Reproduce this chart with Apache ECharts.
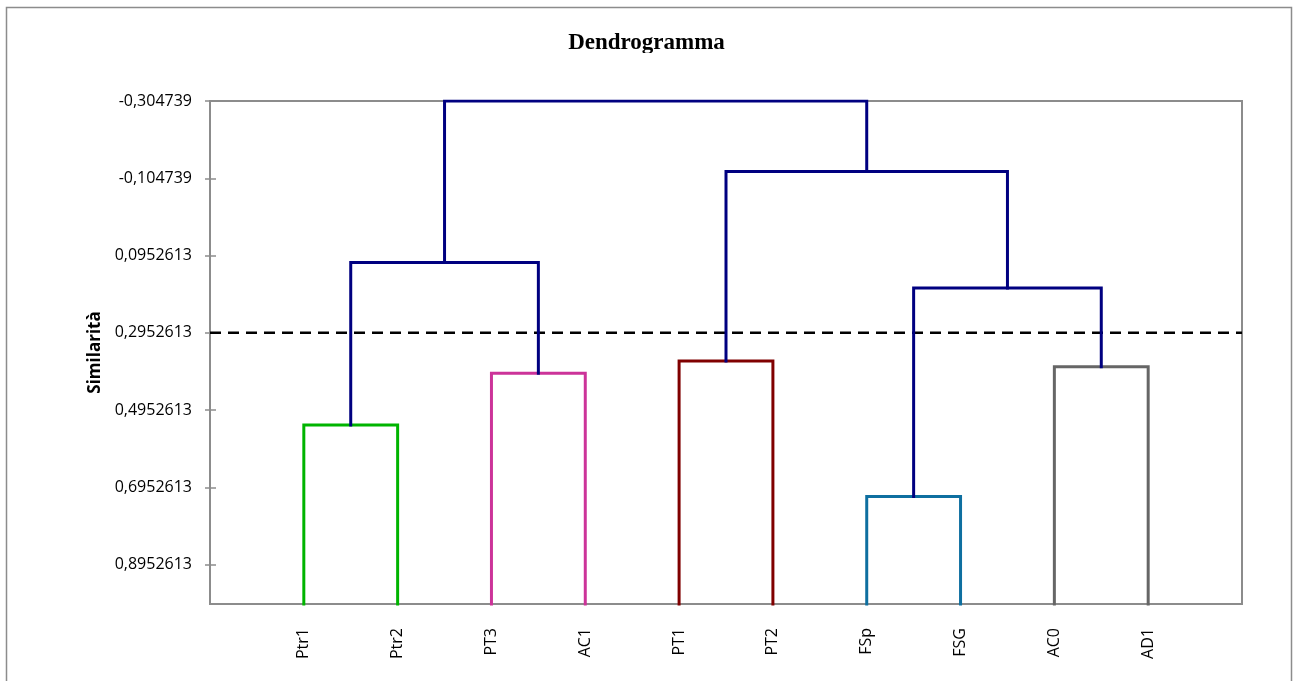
<!DOCTYPE html>
<html>
<head>
<meta charset="utf-8">
<script src="https://cdn.jsdelivr.net/npm/echarts@6/dist/echarts.min.js"></script>
<style>html,body{margin:0;padding:0;background:#fff;}#c{width:1293px;height:681px;}</style>
</head>
<body>
<div id="c"></div>
<script>
// ---- data ----
const leaves = ['Ptr1','Ptr2','PT3','AC1','PT1','PT2','FSp','FSG','AC0','AD1'];
const leafSimilarity = 1;
// merges: node ids 0..9 are leaves, merges produce ids 10..18
const mergeA = [0, 2, 4, 6, 8, 10, 13, 12, 15];
const mergeB = [1, 3, 5, 7, 9, 11, 14, 16, 17];
const mergeHeight = [0.534, 0.400, 0.368, 0.719, 0.383, 0.113, 0.179, -0.122, -0.304739];
const yTicks = [-0.304739, -0.104739, 0.0952613, 0.2952613, 0.4952613, 0.6952613, 0.8952613];
const yTickLabels = ['-0,304739','-0,104739','0,0952613','0,2952613','0,4952613','0,6952613','0,8952613'];
const yAxisMax = 0.997;
const cutLevel = 0.2952613;

// ---- styles ----
const mergeColors = ['#00B400','#CC3399','#800000','#0E6FA0','#666666','#000080','#000080','#000080','#000080'];

const nodeX = leaves.map((_, i) => i + 1);
const nodeY = leaves.map(() => leafSimilarity);
mergeA.forEach((a, k) => {
  const b = mergeB[k];
  nodeX.push((nodeX[a] + nodeX[b]) / 2);
  nodeY.push(mergeHeight[k]);
});

const series = [{
  type: 'line', silent: true, symbol: 'none', z: 1,
  data: [[0, cutLevel], [leaves.length + 1, cutLevel]],
  lineStyle: { color: '#000', width: 2.5, type: [11, 7] }
}];
mergeA.forEach((a, k) => {
  const b = mergeB[k];
  series.push({
    type: 'line', silent: true, symbol: 'none', z: 2, clip: true,
    data: [[nodeX[a], nodeY[a]], [nodeX[a], mergeHeight[k]], [nodeX[b], mergeHeight[k]], [nodeX[b], nodeY[b]]],
    lineStyle: { color: mergeColors[k], width: 3, join: 'miter', cap: 'square' }
  });
});

const chart = echarts.init(document.getElementById('c'), null, { renderer: 'canvas' });
const labelFor = v => {
  let best = 0;
  yTicks.forEach((t, i) => { if (Math.abs(t - v) < Math.abs(yTicks[best] - v)) best = i; });
  return yTickLabels[best];
};
chart.setOption({
  animation: false,
  backgroundColor: '#fff',
  title: {
    text: 'Dendrogramma', left: 'center', top: 27,
    textStyle: { fontFamily: 'Liberation Serif', fontWeight: 'bold', fontSize: 23, color: '#000' }
  },
  graphic: [
    { type: 'rect', z: 100, shape: { x: 6.5, y: 7.5, width: 1285, height: 700 },
      style: { fill: 'none', stroke: '#8c8c8c', lineWidth: 1.5 } },
    { type: 'rect', z: 100, shape: { x: 540, y: 53, width: 220, height: 10 },
      style: { fill: '#fff' } }
  ],
  grid: { left: 210, right: 51, top: 101, bottom: 77, show: true, borderColor: '#8c8c8c', borderWidth: 2, backgroundColor: '#fff' },
  xAxis: {
    type: 'value', min: 0, max: leaves.length + 1,
    splitLine: { show: false },
    axisLine: { onZero: false, lineStyle: { color: '#8c8c8c', width: 2 } },
    axisTick: { show: false },
    axisLabel: {
      customValues: nodeX.slice(0, leaves.length),
      formatter: v => leaves[Math.round(v) - 1],
      rotate: 90, margin: 24, fontSize: 16, fontFamily: 'Open Sans', color: '#000'
    }
  },
  yAxis: [{
    type: 'value', inverse: true, min: yTicks[0], max: yAxisMax,
    name: 'Similarità', nameLocation: 'middle', nameGap: 104,
    nameTextStyle: { fontFamily: 'Open Sans', fontWeight: 'bold', fontSize: 17, color: '#000' },
    splitLine: { show: false },
    axisLine: { lineStyle: { color: '#8c8c8c', width: 2 } },
    axisTick: { customValues: yTicks, length: 5, lineStyle: { color: '#8c8c8c', width: 1.5 } },
    axisLabel: { customValues: yTicks, formatter: labelFor, margin: 18, fontSize: 16, fontFamily: 'Open Sans', color: '#000' }
  }, {
    type: 'value', inverse: true, min: yTicks[0], max: yAxisMax, position: 'left',
    splitLine: { show: false },
    axisLine: { show: false },
    axisTick: { inside: true, customValues: yTicks, length: 6, lineStyle: { color: '#8c8c8c', width: 1.5 } },
    axisLabel: { show: false }
  }],
  series: series
});
</script>
</body>
</html>
